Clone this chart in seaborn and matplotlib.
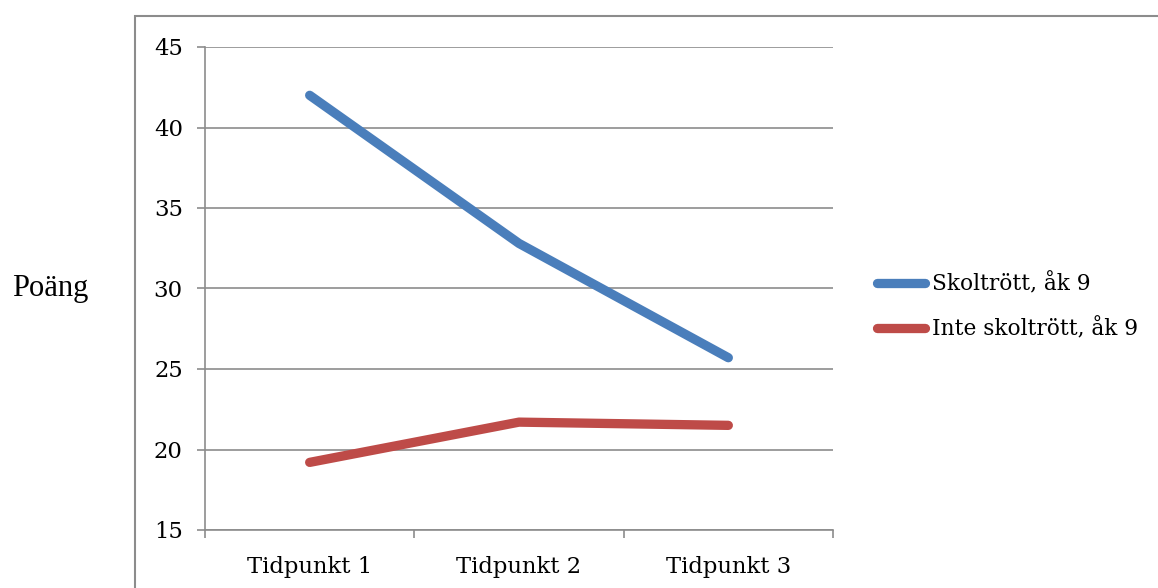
import matplotlib
matplotlib.use("Agg")
import matplotlib.pyplot as plt
import seaborn as sns
import pandas as pd
from matplotlib.patches import Rectangle

categories = ["Tidpunkt 1", "Tidpunkt 2", "Tidpunkt 3"]
series_names = ["Skoltrött, åk 9", "Inte skoltrött, åk 9"]
skoltrott = [42.0, 32.8, 25.7]
inte_skoltrott = [19.2, 21.7, 21.5]
yticks = [15, 20, 25, 30, 35, 40, 45]
colors = ["#4A7EBB", "#BE4B48"]

rows = []
for name, vals in zip(series_names, [skoltrott, inte_skoltrott]):
    for c, v in zip(categories, vals):
        rows.append({"Tidpunkt": c, "Poäng": v, "Serie": name})
df = pd.DataFrame(rows)

sns.set_theme(style="white", rc={"text.color": "black", "xtick.color": "black",
                                 "ytick.color": "black", "axes.labelcolor": "black"})
plt.rcParams["font.family"] = ["DejaVu Serif"]

fig = plt.figure(figsize=(11.58, 5.88), dpi=100)
ax = fig.add_axes([205/1158, 1-530/588, (833-205)/1158, (530-47)/588])

sns.lineplot(data=df, x="Tidpunkt", y="Poäng", hue="Serie", palette=colors,
             linewidth=6.7, sort=False, ax=ax, legend=True)
for line in ax.get_lines():
    line.set_solid_capstyle("round")

grid_c = "#8C8C8C"
ax.set_ylim(15, 45)
ax.set_yticks(yticks)
ax.set_yticklabels([str(t) for t in yticks], fontsize=16.4)
ax.yaxis.grid(True, color=grid_c, linewidth=1.2)
ax.set_axisbelow(True)
ax.set_xlim(-0.5, 2.5)
ax.set_xticks([0, 1, 2])
ax.set_xticklabels(categories, fontsize=16.3)
ax.set_xticks([-0.5, 0.5, 1.5, 2.5], minor=True)
ax.tick_params(axis="x", which="major", bottom=True, length=0, pad=19, labelcolor="black")
ax.tick_params(axis="x", which="minor", bottom=True, length=6, width=1.2, color=grid_c, direction="out")
ax.tick_params(axis="y", left=True, length=6, width=1.2, color=grid_c, direction="out", pad=10,
               labelcolor="black")
ax.set_xlabel("")
ax.set_ylabel("")
for s in ["top", "right"]:
    ax.spines[s].set_visible(False)
for s in ["left", "bottom"]:
    ax.spines[s].set_color(grid_c)
    ax.spines[s].set_linewidth(1.2)

fig.text(12/1158, 1-289/588, "Poäng", fontsize=22, va="center", ha="left",
         family=["Liberation Serif", "DejaVu Serif"], color="black")

handles, labels = ax.get_legend_handles_labels()
ax.legend_.remove()
for h in handles:
    h.set_solid_capstyle("round")
fig.legend(handles, labels, loc="center left", bbox_to_anchor=(868/1158, 1-307/588),
           frameon=False, fontsize=15.6, handlelength=2.25, handletextpad=0.32,
           labelspacing=1.05, borderaxespad=0, labelcolor="black")

fig.patches.append(Rectangle((135/1158, -0.1), 1.2, 1-16/588+0.1, transform=fig.transFigure,
                             fill=False, edgecolor="#8C8C8C", linewidth=1.5, clip_on=False))

fig.savefig("out.png", dpi=100)
